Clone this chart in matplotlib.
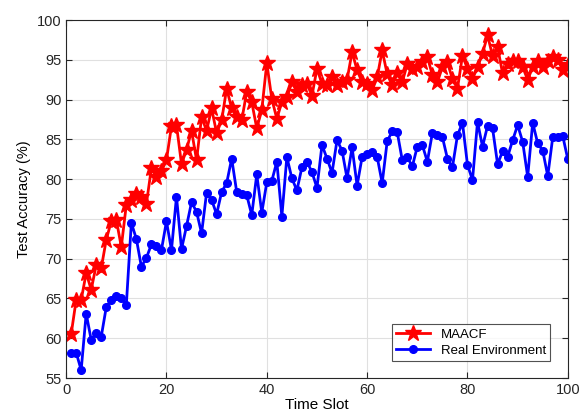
import numpy as np
import matplotlib
matplotlib.use('Agg')
import matplotlib.pyplot as plt

plt.rcParams['font.family'] = ['Liberation Sans', 'DejaVu Sans']

# time slots 1..100
slots = np.arange(1, 101)

maacf = [60.5, 64.8, 64.8, 68.2, 66.1, 69.2, 68.8, 72.4, 74.7, 74.9,
         71.5, 76.8, 77.4, 78.2, 77.8, 76.9, 81.4, 80.3, 81.0, 82.4,
         86.7, 86.8, 81.9, 83.7, 86.1, 82.4, 87.8, 86.1, 88.9, 85.8,
         87.4, 91.4, 88.9, 87.8, 87.4, 91.0, 89.7, 86.4, 88.7, 94.6,
         90.1, 87.6, 89.7, 90.3, 92.2, 91.0, 91.8, 92.0, 90.5, 93.9,
         92.0, 91.8, 92.8, 91.8, 92.2, 92.5, 96.0, 93.7, 92.2, 92.0,
         91.2, 92.8, 96.2, 93.2, 91.8, 93.3, 92.2, 94.5, 93.9, 94.1,
         94.7, 95.4, 93.1, 92.2, 94.1, 94.7, 92.6, 91.4, 95.5, 93.9,
         92.6, 94.1, 95.8, 98.1, 95.5, 96.6, 93.3, 94.5, 94.9, 94.9,
         94.1, 92.5, 94.1, 94.9, 94.1, 94.9, 95.4, 95.0, 93.7, 94.3]

real_env = [58.2, 58.2, 56.0, 63.1, 59.8, 60.7, 60.2, 63.9, 64.8, 65.3,
            65.1, 64.2, 74.5, 72.5, 69.0, 70.1, 71.8, 71.6, 71.1, 74.7,
            71.1, 77.8, 71.2, 74.1, 77.1, 75.9, 73.2, 78.3, 77.4, 75.6,
            78.4, 79.5, 82.6, 78.4, 78.2, 78.0, 75.5, 80.6, 75.8, 79.6,
            79.8, 82.2, 75.3, 82.8, 80.1, 78.6, 81.5, 82.2, 80.9, 78.9,
            84.3, 82.6, 80.8, 84.9, 83.6, 80.1, 84.0, 79.2, 82.8, 83.2,
            83.4, 82.8, 79.5, 84.8, 86.0, 85.9, 82.4, 82.8, 81.6, 84.1,
            84.3, 82.2, 85.8, 85.5, 85.3, 82.6, 81.5, 85.5, 87.1, 81.8,
            79.9, 87.2, 84.1, 86.7, 86.4, 81.9, 83.5, 82.8, 84.9, 86.8,
            84.7, 80.3, 87.1, 84.5, 83.6, 80.4, 85.3, 85.3, 85.4, 82.5]

fig = plt.figure(figsize=(5.8, 4.2), dpi=100)
ax = fig.add_axes([0.114, 0.1, 0.865, 0.852])

ax.plot(slots, maacf, color='red', lw=2, marker='*', ms=12, label='MAACF')
ax.plot(slots, real_env, color='blue', lw=2, marker='o', ms=5.5, label='Real Environment')

ax.set_xlim(0, 100)
ax.set_ylim(55, 100)
ax.set_xticks(range(0, 101, 20))
ax.set_yticks(range(55, 101, 5))
ax.grid(True, color='#e0e0e0', lw=0.8)
ax.set_axisbelow(True)
ax.tick_params(direction='in', top=True, right=True, labelsize=10.5, colors='#262626', length=4)
for s in ax.spines.values():
    s.set_color('#262626')
    s.set_linewidth(0.8)

ax.set_xlabel('Time Slot', fontsize=11, labelpad=1)
ax.set_ylabel('Test Accuracy (%)', fontsize=10.5)

leg = ax.legend(loc='lower right', fontsize=9.5, fancybox=False, edgecolor='#262626',
                borderpad=0.3, handlelength=2.6, labelspacing=0.3,
                bbox_to_anchor=(0.978, 0.03))
leg.get_frame().set_linewidth(0.8)

plt.savefig('out.png', dpi=100)
